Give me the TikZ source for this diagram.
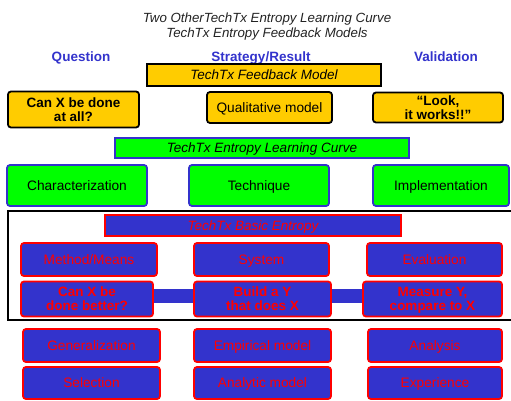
\documentclass[tikz,border=0pt]{standalone}
\usepackage{fontspec}
\setmainfont{Liberation Sans}
\definecolor{gold}{HTML}{FFCC00}
\definecolor{lime}{HTML}{00FF00}
\definecolor{pblue}{HTML}{3333CC}
\definecolor{pred}{HTML}{FF0000}
\definecolor{ttl}{HTML}{222222}
\tikzset{
  box/.style={inner sep=0pt, align=center, line width=1.8pt, rounded corners=3pt,
    text depth=0pt, font=\fontsize{13.7}{14}\selectfont},
  twoline/.style={font=\fontsize{13.5}{14}\selectfont\bfseries},
  goldbox/.style={box, fill=gold, draw=black},
  greenbox/.style={box, fill=lime, draw=pblue},
  bluebox/.style={box, fill=pblue, draw=pred, text=pred},
  hdr/.style={font=\fontsize{13.5}{15}\selectfont\bfseries, text=pblue, inner sep=0pt, text depth=0pt},
}
\begin{document}
\begin{tikzpicture}[x=1pt,y=-1pt]
\useasboundingbox (0,0) rectangle (511,401);
% title
\node[font=\fontsize{13.3}{15}\selectfont\itshape, text=ttl, align=center, inner sep=0pt, text depth=0pt] (title) at (267,25)
  {Two OtherTechTx Entropy Learning Curve\\TechTx Entropy Feedback Models};
% headers
\node[hdr] (hq) at (81,56.5) {Question};
\node[hdr] (hs) at (261,56.5) {Strategy/Result};
\node[hdr] (hv) at (446,56.5) {Validation};
% feedback model
\node[goldbox, rounded corners=0pt, minimum width=234, minimum height=22, font=\fontsize{13.5}{15}\selectfont\itshape] (fb) at (264,75) {TechTx Feedback Model};
\node[goldbox, twoline, minimum width=131, minimum height=36] (q1) at (73.5,109.5) {Can X be done\\at all?};
\node[goldbox, minimum width=125, minimum height=31] (q2) at (269.5,107.5) {Qualitative model};
\node[goldbox, twoline, minimum width=130, minimum height=30] (q3) at (438,107.5) {``Look,\\it works!!''};
% learning curve
\node[greenbox, rounded corners=0pt, minimum width=294, minimum height=20, font=\fontsize{13.5}{15}\selectfont\itshape] (lc) at (262,148) {TechTx Entropy Learning Curve};
\node[greenbox, minimum width=140, minimum height=41] (c1) at (77,185.5) {Characterization};
\node[greenbox, minimum width=140, minimum height=41] (c2) at (259,185.5) {Technique};
\node[greenbox, minimum width=136, minimum height=41] (c3) at (441,185.5) {Implementation};
% frame
\draw[line width=2pt] (8,211) rectangle (513,320);
% basic entropy
\node[bluebox, rounded corners=0pt, minimum width=296, minimum height=21, font=\fontsize{13.5}{15}\selectfont\itshape] (be) at (253,225.5) {TechTx Basic Entropy};
\node[bluebox, minimum width=136, minimum height=33] (m1) at (89,259.5) {Method/Means};
\node[bluebox, minimum width=135, minimum height=33] (m2) at (261.5,259.5) {System};
\node[bluebox, minimum width=135, minimum height=33] (m3) at (434.5,259.5) {Evaluation};
\coordinate (l1) at (87,296);
\coordinate (l2) at (262.5,296);
\coordinate (l3) at (432.5,296);
\draw[pblue, line width=14pt] (l1) -- (l2) -- (l3);
\node[bluebox, twoline, minimum width=132, minimum height=35] (b1) at (87,299) {Can X be\\done better?};
\node[bluebox, twoline, minimum width=137, minimum height=35] (b2) at (262.5,299) {Build a Y\\that does X};
\node[bluebox, twoline, minimum width=139, minimum height=35] (b3) at (432.5,299) {Measure Y,\\compare to X};
% bottom rows
\node[bluebox, minimum width=137, minimum height=33] (g1) at (91.5,345.5) {Generalization};
\node[bluebox, minimum width=137, minimum height=33] (g2) at (262.5,345.5) {Empirical model};
\node[bluebox, minimum width=134, minimum height=33] (g3) at (435,345.5) {Analysis};
\node[bluebox, minimum width=137, minimum height=32] (s1) at (91.5,383) {Selection};
\node[bluebox, minimum width=137, minimum height=32] (s2) at (262.5,383) {Analytic model};
\node[bluebox, minimum width=134, minimum height=32] (s3) at (435,383) {Experience};
\end{tikzpicture}
\end{document}
